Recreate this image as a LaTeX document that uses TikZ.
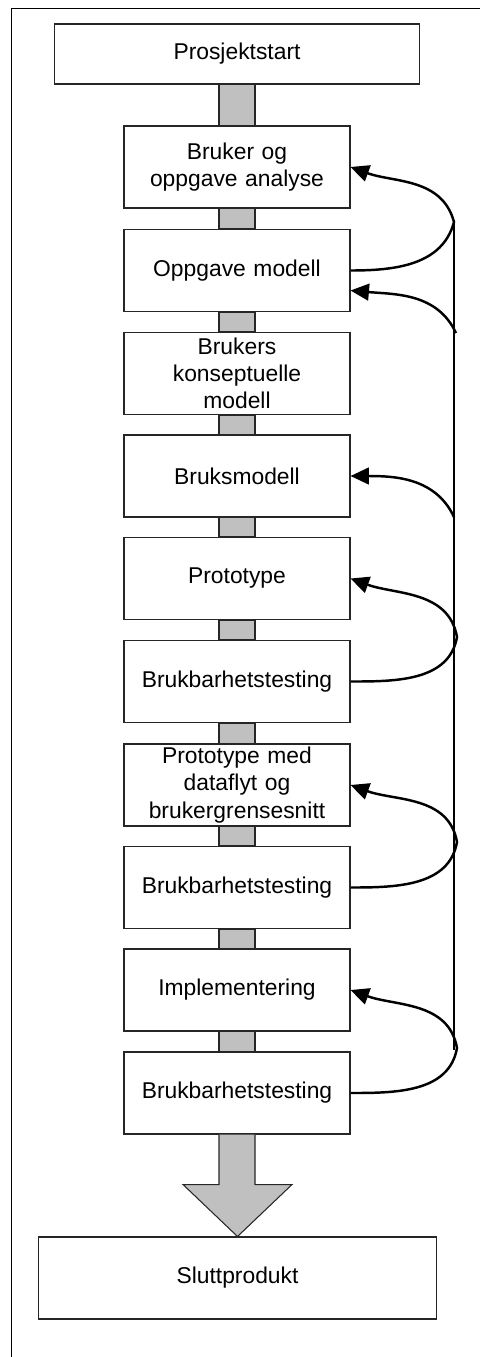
\documentclass[tikz,border=0pt]{standalone}
\usepackage{fontspec}
\setmainfont{Liberation Sans}
\usetikzlibrary{arrows.meta,calc}

\definecolor{bargray}{RGB}{192,192,192}
\tikzset{
  stage/.style={draw=black!85, line width=0.6pt, fill=white, inner sep=0pt,
    minimum width=4.52cm, minimum height=1.64cm, text width=4.4cm, align=center,
    font=\fontsize{13}{15.5}\selectfont},
  bar/.style={draw=black!85, line width=0.6pt, fill=bargray},
  spine/.style={line width=1.3pt},
  feedback/.style={line width=1.4pt, -{Triangle[length=10.5pt,width=9.5pt]}}
}

\begin{document}
\begin{tikzpicture}[x=0.02cm, y=-0.02cm]
      \useasboundingbox (0,0) rectangle (480,1357);
      \draw[line width=0.7pt] (11.5,1357) -- (11.5,8.5) -- (480,8.5);
      %%%%%%%%%%%%%%%%%%%%%%%%%%%%%%%%%%%%%%%%%%%%%%%
      \node[stage, minimum width=7.32cm, minimum height=1.2cm, text width=7cm] at (237,54) (start) {Prosjektstart};
      \node[stage] at (237,167)    (analyse)   {Bruker og\\oppgave analyse};
      \node[stage] at (237,270.5)  (oppgmod)   {Oppgave modell};
      \node[stage] at (237,373.5)  (konsept)   {Brukers\\konseptuelle\\modell};
      \node[stage] at (237,476)    (bruksmod)  {Bruksmodell};
      \node[stage] at (237,578.5)  (proto)     {Prototype};
      \node[stage] at (237,681.5)  (test1)     {Brukbarhetstesting};
      \node[stage] at (237,785)    (protodata) {Prototype med\\dataflyt og\\brukergrensesnitt};
      \node[stage] at (237,887.5)  (test2)     {Brukbarhetstesting};
      \node[stage] at (237,990)    (impl)      {Implementering};
      \node[stage] at (237,1093)   (test3)     {Brukbarhetstesting};
      \node[stage, minimum width=7.98cm, text width=7.6cm] at (237.5,1278) (slutt) {Sluttprodukt};
      %%%%%%%%%%%%%%%%%%%%%%%%%%%%%%%%%%%%%%%%%%%%%%%
      % gray links between the stages
      \draw[bar] ($(start.south)+(-18,0)$)     rectangle ($(analyse.north)+(18,0)$)
                 ($(analyse.south)+(-18,0)$)   rectangle ($(oppgmod.north)+(18,0)$)
                 ($(oppgmod.south)+(-18,0)$)   rectangle ($(konsept.north)+(18,0)$)
                 ($(konsept.south)+(-18,0)$)   rectangle ($(bruksmod.north)+(18,0)$)
                 ($(bruksmod.south)+(-18,0)$)  rectangle ($(proto.north)+(18,0)$)
                 ($(proto.south)+(-18,0)$)     rectangle ($(test1.north)+(18,0)$)
                 ($(test1.south)+(-18,0)$)     rectangle ($(protodata.north)+(18,0)$)
                 ($(protodata.south)+(-18,0)$) rectangle ($(test2.north)+(18,0)$)
                 ($(test2.south)+(-18,0)$)     rectangle ($(impl.north)+(18,0)$)
                 ($(impl.south)+(-18,0)$)      rectangle ($(test3.north)+(18,0)$);
      % big arrow down to the end product
      \draw[bar] ($(test3.south)+(-18,0)$) -- ($(test3.south)+(-18,50)$)
                 -- ($(test3.south)+(-54,50)$) -- (slutt.north)
                 -- ($(test3.south)+(55,50)$) -- ($(test3.south)+(18,50)$)
                 -- ($(test3.south)+(18,0)$);
      %%%%%%%%%%%%%%%%%%%%%%%%%%%%%%%%%%%%%%%%%%%%%%%
      % feedback line on the right
      \coordinate (ktop) at (454,222);
      \coordinate (kbot) at (454,1050);
      \coordinate (kb) at (456,333);
      \coordinate (kc) at (454,517);
      \coordinate (kd) at (457,637);
      \coordinate (ke) at (457,842);
      \coordinate (kf) at (457,1048);
      \draw[spine] (ktop) -- (kbot);
      \draw[feedback] (oppgmod.east) to[out=0,in=-105] (ktop) to[out=105,in=-20] (analyse.east);
      \draw[feedback] (kb) to[out=115,in=-5] ([yshift=-0.4cm]oppgmod.east);
      \draw[feedback] (kc) to[out=115,in=0] (bruksmod.east);
      \draw[feedback] (test1.east) to[out=0,in=-100] (kd) to[out=100,in=-20] (proto.east);
      \draw[feedback] (test2.east) to[out=0,in=-100] (ke) to[out=100,in=-20] (protodata.east);
      \draw[feedback] (test3.east) to[out=0,in=-100] (kf) to[out=100,in=-20] (impl.east);
      %%%%%%%%%%%%%%%%%%%%%%%%%%%%%%%%%%%%%%%%%%%%%%%
\end{tikzpicture}
\end{document}
